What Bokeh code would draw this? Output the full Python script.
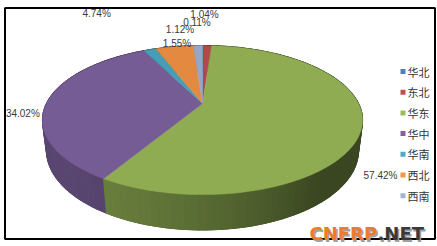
import numpy as np
from bokeh.plotting import figure
from bokeh.models import Range1d
from bokeh.embed import file_html
from bokeh.resources import INLINE
from bokeh.core.properties import value

# ---- data ----
regions = ["华北", "东北", "华东", "华中", "华南", "西北", "西南"]
shares = [0.11, 1.04, 57.42, 34.02, 1.55, 4.74, 1.12]
pct_labels = ["0.11%", "1.04%", "57.42%", "34.02%", "1.55%", "4.74%", "1.12%"]
colors = ["#4F81BD", "#C0504D", "#9BBB59", "#8064A2", "#4BACC6", "#F79646", "#A3B4DB"]

# ---- layout / style ----
label_dx = [-6, -3, 18.5, -25, 27, -78, -18]
label_dy = [-23, -31, 49, 12.6, -6, -33, -16]
CX, CY, S = 202.0, 103.0, 156.0
PHI = np.radians(27.0)
DIST = 4.0
H = 0.22


def proj(theta, r, Y):
    X = r * np.sin(theta)
    Z = r * np.cos(theta)
    u = Y * np.cos(PHI) + Z * np.sin(PHI)
    w = Z * np.cos(PHI) - Y * np.sin(PHI)
    s = 1.0 / (1.0 + w / DIST)
    return CX + S * X * s, CY - S * u * s


def scale_col(hx, f):
    hx = hx.lstrip("#")
    r, g, b = (int(hx[i:i + 2], 16) for i in (0, 2, 4))
    c = [max(0, min(255, int(round(v * f)))) for v in (r, g, b)]
    return "#%02x%02x%02x" % tuple(c)


def side_f(t):
    d = max(0.0, -0.8 * np.sin(t) - 0.6 * np.cos(t))
    return 0.38 + 0.32 * d


p = figure(width=437, height=246, x_range=Range1d(0, 437), y_range=Range1d(246, 0),
           output_backend="svg", toolbar_location=None, min_border=0,
           x_axis_type=None, y_axis_type=None)
p.grid.visible = False
p.outline_line_color = None
p.background_fill_color = "white"
p.border_fill_color = "white"

total = float(sum(shares))
bounds = np.concatenate([[0.0], np.cumsum(shares) / total * 2 * np.pi])

# side walls: one underlay per slice, then shaded strips
under_x, under_y, under_c = [], [], []
quads = []
for i, c in enumerate(colors):
    a0, a1 = bounds[i], bounds[i + 1]
    n = max(1, int(np.ceil(np.degrees(a1 - a0) / 2.0)))
    ts = np.linspace(a0, a1, n + 1)
    tx, ty = proj(ts, 1.0, 0.0)
    bx, by = proj(ts[::-1], 1.0, -H)
    under_x.append(list(tx) + list(bx))
    under_y.append(list(ty) + list(by))
    under_c.append(scale_col(c, side_f(0.5 * (a0 + a1))))
    for k in range(n):
        t0, t1 = ts[k], ts[k + 1]
        tm = 0.5 * (t0 + t1)
        x0, y0 = proj(t0, 1.0, 0.0)
        x1, y1 = proj(t1, 1.0, 0.0)
        x2, y2 = proj(t1, 1.0, -H)
        x3, y3 = proj(t0, 1.0, -H)
        quads.append((np.cos(tm), [x0, x1, x2, x3], [y0, y1, y2, y3],
                      scale_col(c, side_f(tm))))
quads.sort(key=lambda q: -q[0])
p.patches(under_x, under_y, fill_color=under_c, line_color=under_c, line_width=1)
sc = [q[3] for q in quads]
p.patches([q[1] for q in quads], [q[2] for q in quads], fill_color=sc, line_color=sc,
          line_width=1.2)

# top faces
txs, tys, tcs = [], [], []
for i, c in enumerate(colors):
    a0, a1 = bounds[i], bounds[i + 1]
    n = max(2, int(np.ceil(np.degrees(a1 - a0) / 0.5)))
    ts = np.linspace(a0, a1, n + 1)
    xs, ys = proj(ts, 1.0, 0.0)
    cx0, cy0 = proj(0.0, 0.0, 0.0)
    txs.append([cx0] + list(xs))
    tys.append([cy0] + list(ys))
    tcs.append(scale_col(c, 0.92))
p.patches(txs, tys, fill_color=tcs, line_color=tcs, line_width=0.5)

# data labels
mids = 0.5 * (bounds[:-1] + bounds[1:])
lx, ly = proj(mids, 1.0, 0.0)
p.text(x=list(lx + np.array(label_dx)), y=list(ly + np.array(label_dy)), text=pct_labels,
       text_font=value("Liberation Sans"), text_font_size="10px",
       text_align="center", text_baseline="middle", text_color="#3a3a3a")

# legend
LEG_X, LEG_Y0, LEG_STEP = 402.5, 71.0, 20.7
leg_y = [LEG_Y0 + i * LEG_STEP for i in range(len(regions))]
p.rect(x=[LEG_X] * len(regions), y=leg_y, width=5, height=5, fill_color=colors,
       line_color=None)
p.text(x=[LEG_X + 4.5] * len(regions), y=leg_y, text=regions,
       text_font=value("Noto Sans CJK SC"), text_font_size="11px",
       text_align="left", text_baseline="middle", text_color="#333333")

# frame
p.quad(left=[4.5], right=[434.5], top=[7.5], bottom=[238.5], fill_color=None,
       line_color="black", line_width=2)

# watermark
for dx, dy, c1, c2 in [(1.5, 1.5, "#a0a0a0", "#a0a0a0"), (0, 0, "#EE7A2A", "#3a3a3a")]:
    p.text(x=[309 + dx], y=[233 + dy], text=["CNFRP"], text_font=value("DejaVu Sans"),
           text_font_style="bold", text_font_size="18px", text_align="left",
           text_baseline="alphabetic", text_color=c1)
    p.text(x=[377 + dx], y=[233 + dy], text=[".NET"], text_font=value("DejaVu Sans"),
           text_font_style="bold", text_font_size="18px", text_align="left",
           text_baseline="alphabetic", text_color=c2)

open("out.html", "w").write(file_html(p, INLINE))
